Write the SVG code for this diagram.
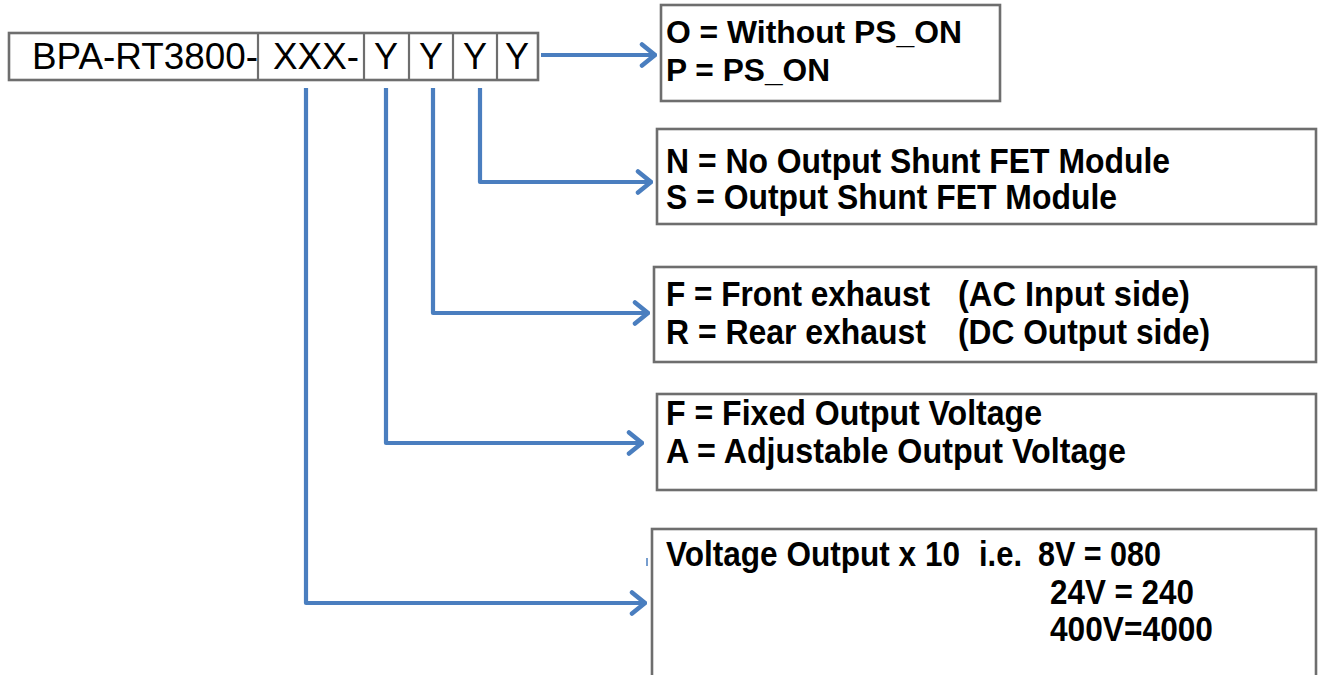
<svg xmlns="http://www.w3.org/2000/svg" width="1319" height="675" viewBox="0 0 1319 675">
<style>
.box{fill:#fff;stroke:#6e6e6e;stroke-width:2.6}
.cell{fill:none;stroke:#6e6e6e;stroke-width:2.2}
.code{font-family:"Liberation Sans",Arial,sans-serif;font-size:36px;fill:#000}
.lbl{font-family:"Liberation Sans",Arial,sans-serif;font-size:32px;font-weight:bold;fill:#000}
.nl{font-family:"Liberation Sans Narrow","Liberation Sans",Arial,sans-serif;font-size:35px;font-weight:bold;fill:#000}
.conn{fill:none;stroke:#4a7ebf;stroke-width:4.2;stroke-linejoin:round}
</style>
<defs>
<marker id="arr" viewBox="0 0 18 26" refX="16" refY="13" markerWidth="18" markerHeight="26" markerUnits="userSpaceOnUse" orient="auto">
<path d="M3,2.5 L16,13 L3,23.5" fill="none" stroke="#4a7ebf" stroke-width="4.5" stroke-linecap="round" stroke-linejoin="round"/>
</marker>
</defs>
<rect width="1319" height="675" fill="#fff"/>

<g id="code">
<rect class="box" x="9" y="33" width="529" height="47"/>
<line class="cell" x1="258" y1="33" x2="258" y2="80"/>
<line class="cell" x1="364" y1="33" x2="364" y2="80"/>
<line class="cell" x1="409" y1="33" x2="409" y2="80"/>
<line class="cell" x1="453" y1="33" x2="453" y2="80"/>
<line class="cell" x1="497" y1="33" x2="497" y2="80"/>
<text class="code" x="32" y="69" textLength="226" lengthAdjust="spacingAndGlyphs">BPA-RT3800-</text>
<text class="code" x="273" y="69" textLength="86" lengthAdjust="spacingAndGlyphs">XXX-</text>
<text class="code" x="386" y="69" text-anchor="middle">Y</text>
<text class="code" x="431" y="69" text-anchor="middle">Y</text>
<text class="code" x="475" y="69" text-anchor="middle">Y</text>
<text class="code" x="517" y="69" text-anchor="middle">Y</text>
</g>

<g id="connectors">
<path class="conn" d="M541,55 H655" marker-end="url(#arr)"/>
<path class="conn" d="M480,88 V182 H651" marker-end="url(#arr)"/>
<path class="conn" d="M433,88 V313 H648" marker-end="url(#arr)"/>
<path class="conn" d="M386,88 V443 H642" marker-end="url(#arr)"/>
<path class="conn" d="M306,88 V603 H645" marker-end="url(#arr)"/>
<path d="M647,558 V566" stroke="#4a7ebf" stroke-width="1.5"/>
</g>

<g id="ps-on">
<rect class="box" x="661" y="5" width="339" height="96"/>
<text class="lbl" x="666" y="43" textLength="296" lengthAdjust="spacingAndGlyphs">O = Without PS_ON</text>
<text class="lbl" x="666" y="81" textLength="164" lengthAdjust="spacingAndGlyphs">P = PS_ON</text>
</g>

<g id="shunt">
<rect class="box" x="657" y="129" width="659" height="95"/>
<text class="nl" x="666" y="173" textLength="504" lengthAdjust="spacingAndGlyphs">N = No Output Shunt FET Module</text>
<text class="nl" x="666" y="209" textLength="451" lengthAdjust="spacingAndGlyphs">S = Output Shunt FET Module</text>
</g>

<g id="exhaust">
<rect class="box" x="654" y="267" width="662" height="95"/>
<text class="nl" x="666" y="306"><tspan textLength="264" lengthAdjust="spacingAndGlyphs">F = Front exhaust</tspan><tspan x="958" textLength="232" lengthAdjust="spacingAndGlyphs">(AC Input side)</tspan></text>
<text class="nl" x="666" y="344"><tspan textLength="260" lengthAdjust="spacingAndGlyphs">R = Rear exhaust</tspan><tspan x="958" textLength="252" lengthAdjust="spacingAndGlyphs">(DC Output side)</tspan></text>
</g>

<g id="voltage-type">
<rect class="box" x="657" y="394" width="659" height="96"/>
<text class="nl" x="666" y="425" textLength="376" lengthAdjust="spacingAndGlyphs">F = Fixed Output Voltage</text>
<text class="nl" x="666" y="463" textLength="460" lengthAdjust="spacingAndGlyphs">A = Adjustable Output Voltage</text>
</g>

<g id="voltage-output">
<rect class="box" x="652" y="529" width="664" height="160"/>
<text class="nl" x="666" y="566"><tspan textLength="294" lengthAdjust="spacingAndGlyphs">Voltage Output x 10</tspan><tspan x="979" textLength="43" lengthAdjust="spacingAndGlyphs">i.e.</tspan><tspan x="1038" textLength="123" lengthAdjust="spacingAndGlyphs">8V = 080</tspan></text>
<text class="nl" x="1050" y="604" textLength="144" lengthAdjust="spacingAndGlyphs">24V = 240</text>
<text class="nl" x="1050" y="641" textLength="163" lengthAdjust="spacingAndGlyphs">400V=4000</text>
</g>
</svg>
